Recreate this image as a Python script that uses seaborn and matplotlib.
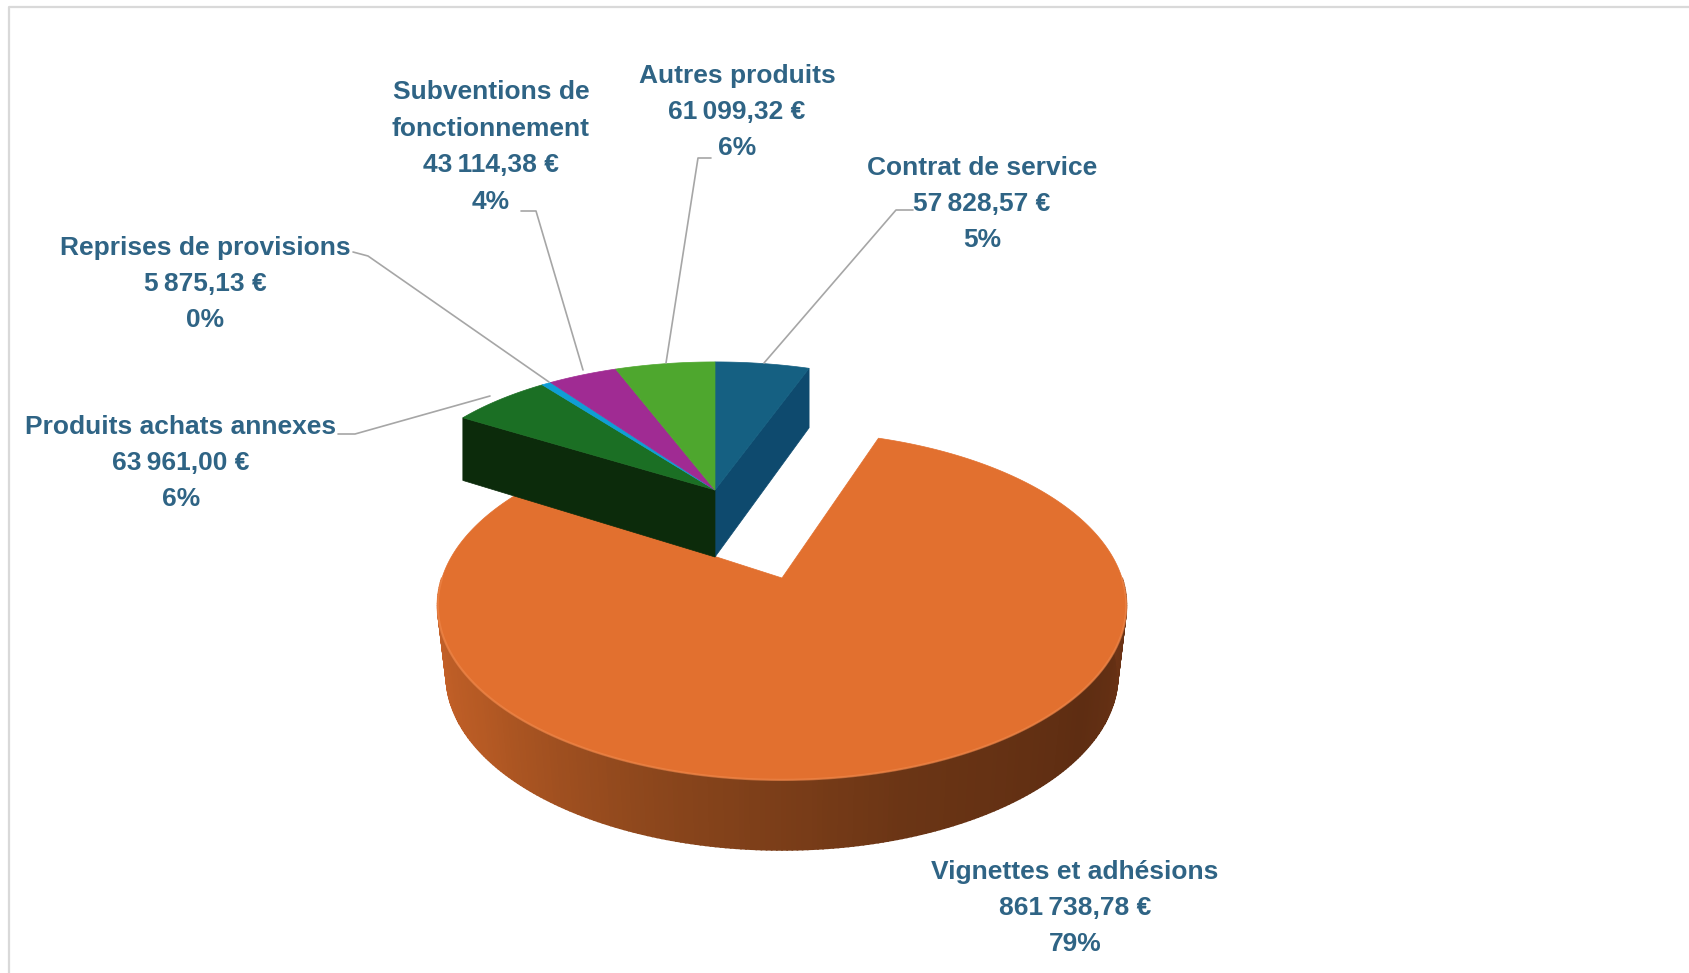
"""
Produits - camembert 3D (vue en perspective, part principale détachée)
"""

import numpy as np
import matplotlib.pyplot as plt
import seaborn as sns

sns.set_theme(style="white")
plt.rcParams['font.family'] = ['Liberation Sans', 'DejaVu Sans']

# ==================== data ====================
labels = ["Contrat de service", "Vignettes et adhésions", "Produits achats annexes",
          "Reprises de provisions", "Subventions de\nfonctionnement", "Autres produits"]
values = [57828.57, 861738.78, 63961.00, 5875.13, 43114.38, 61099.32]
percents = [5, 79, 6, 0, 4, 6]
colors = ["#156082", "#E2702F", "#1B6F24", "#0F9ED5", "#A02B93", "#4EA72E"]
wall_colors = ["#0E4A6E", "#C9652C", "#0C2B0B", "#0F9ED5", "#A02B93", "#4EA72E"]
rim_colors = ["#CC642B", "#B65A24", "#8B461C", "#6B3515", "#5E2D12", "#6E3416"]

# label centre, leader line (start, elbow, end), in pixels
label_pos = [(982, 204), (1075, 908), (181, 463), (205, 284), (491, 147), (737, 112)]
leaders = [[(913, 210), (896, 210), (764, 363)],
           None,
           [(338, 434), (355, 434), (490, 396)],
           [(353, 252), (368, 256), (549, 382)],
           [(521, 211), (536, 211), (583, 370)],
           [(711, 158), (698, 158), (666, 363)]]

# ==================== cameras ====================
# apex x, apex y, x scale, y scale, perspective
CAM_MAIN = (782, 578, 340, 170, 0.158)
CAM_REST = (715, 490, 316, 141, 0.101)
IDX_MAIN = 1
RIM_DEPTH = 70
RIM_NARROW = 0.975     # lower edge of the rim is further away


def project(u, v, cam):
    x0, y0, sx, sy, p = cam
    w = 1 + p * np.asarray(v)
    return x0 + sx * np.asarray(u) / w, y0 - sy * np.asarray(v) / w


def outline(t1, t2, n=80):
    t = np.radians(np.linspace(t1, t2, n))
    return np.r_[0, np.cos(t)], np.r_[0, np.sin(t)]


def wall(ax, t, color):
    # flat cut face going from the apex to the rim at angle t
    u = np.array([0, np.cos(np.radians(t))])
    v = np.array([0, np.sin(np.radians(t))])
    x, y = project(u, v, CAM_REST)
    d = 67 - 8 * v
    ax.fill([x[0], x[1], x[1], x[0]], [y[0], y[1], y[1] + d[1], y[0] + d[0]],
            color=color, lw=0.5, zorder=4)


fig = plt.figure(figsize=(16.89, 9.73), dpi=100)
ax = fig.add_axes([0, 0, 1, 1])

# pie gives the angles of every slice
wedges, _ = ax.pie(values, startangle=90, counterclock=False)
angles = [(w.theta1, w.theta2) for w in wedges]
for w in wedges:
    w.remove()

ax.set_aspect('auto')
ax.set_xlim(0, 1689)
ax.set_ylim(973, 0)
ax.axis('off')

# ==================== main slice ====================
t_rim = np.linspace(180, 360, 241)
u_rim, v_rim = np.cos(np.radians(t_rim)), np.sin(np.radians(t_rim))
x_rim, y_rim = project(u_rim, v_rim, CAM_MAIN)
x_low = CAM_MAIN[0] + (x_rim - CAM_MAIN[0]) * RIM_NARROW
y_low = y_rim + RIM_DEPTH
shade = sns.blend_palette(rim_colors, 240)
for i in range(240):
    ax.fill([x_rim[i], x_rim[i + 1], x_low[i + 1], x_low[i]],
            [y_rim[i], y_rim[i + 1], y_low[i + 1], y_low[i]],
            color=shade[i], lw=1.2, zorder=1)

t1, t2 = angles[IDX_MAIN]
u, v = outline(t1, t2, n=300)
ax.fill(*project(u, v, CAM_MAIN), color=colors[IDX_MAIN], lw=0.5, zorder=2)
ax.plot(x_rim, y_rim, color="#F08A4E", lw=1.6, alpha=0.6, zorder=3)

# ==================== the other slices ====================
wall(ax, angles[IDX_MAIN][1], wall_colors[0])
wall(ax, angles[IDX_MAIN][0], wall_colors[2])
for i in range(len(values)):
    if i == IDX_MAIN:
        continue
    u, v = outline(angles[i][0], angles[i][1])
    ax.fill(*project(u, v, CAM_REST), color=colors[i], lw=0.5, zorder=5)

# ==================== labels ====================
for i, name in enumerate(labels):
    amount = f"{values[i]:,.2f}".replace(",", "\u2009").replace(".", ",")
    text = f"{name}\n{amount} €\n{percents[i]}%"
    ax.text(label_pos[i][0], label_pos[i][1], text, ha='center', va='center',
            fontsize=19, fontweight='bold', color="#2F6485", linespacing=1.65,
            zorder=7)
    if leaders[i] is not None:
        xs, ys = zip(*leaders[i])
        ax.plot(xs, ys, color="#A6A6A6", lw=1.2, zorder=6)

# chart area border
ax.plot([9, 9, 1689], [973, 7, 7], color="#D9D9D9", lw=1.6, zorder=0)

plt.savefig('out.png', dpi=100)
